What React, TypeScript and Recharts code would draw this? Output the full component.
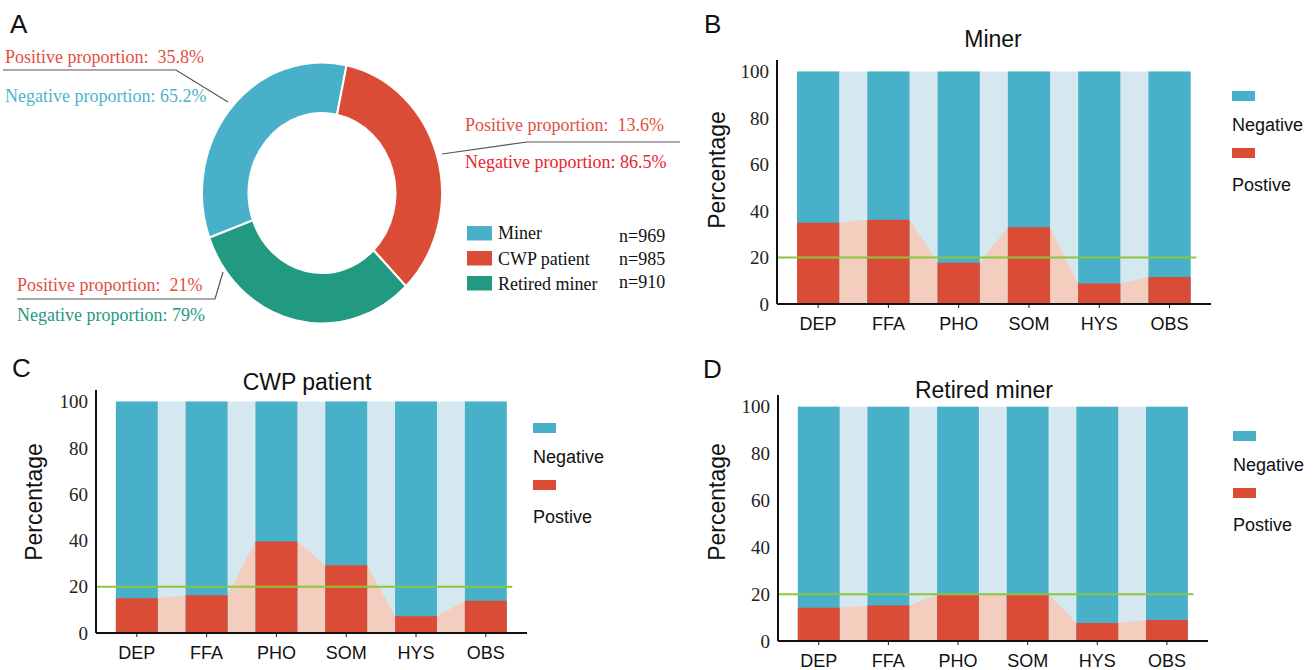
import React from 'react';
import { ComposedChart, Area, XAxis, YAxis, ReferenceLine, PieChart, Pie, Cell } from 'recharts';

// screening results per factor (positive %)
const categories = ['DEP', 'FFA', 'PHO', 'SOM', 'HYS', 'OBS'];
const minerPositive = [35.0, 36.3, 17.8, 33.0, 8.8, 11.6];
const cwpPositive = [15.0, 16.3, 39.5, 29.3, 7.2, 13.9];
const retiredPositive = [14.2, 15.2, 19.7, 20.0, 7.7, 9.0];
const yTicks = [0, 20, 40, 60, 80, 100];
const cutoff = 20;

// donut panel
const groups = ['Miner', 'CWP patient', 'Retired miner'];
const groupCounts = [969, 985, 910];

const BLUE = '#48b1c9';
const RED = '#db4c37';
const GREEN = '#229a82';
const LIGHT_BLUE = '#d5e7ef';
const PINK = '#f3cdbd';
const LINE_GREEN = '#8cc63f';
const groupColors = [BLUE, RED, GREEN];

const SERIF = "'Times New Roman', 'Liberation Serif', serif";
const SANS = "Arial, 'Liberation Sans', sans-serif";

const HALF = 0.3; // half bar width, in category units
const X_DOMAIN: [number, number] = [-0.585, 5.59];

// each bar gets a left and right edge row; a gap row between bars breaks the bar areas
const buildRows = (positive: number[]) => {
  const rows: any[] = [];
  positive.forEach((p, i) => {
    if (i > 0) rows.push({ x: i - 0.5, total: null, pos: null, linkTotal: null, linkPos: null });
    rows.push({ x: i - HALF, total: 100, pos: p, linkTotal: 100, linkPos: p });
    rows.push({ x: i + HALF, total: 100, pos: p, linkTotal: 100, linkPos: p });
  });
  return rows;
};

const panels = [
  { letter: 'B', title: 'Miner', values: minerPositive, left: 717, top: 50, width: 499, height: 294,
    letterX: 704, letterY: 33, titleX: 993, titleY: 47, labelX: 717, labelY: 170, legendX: 1232, legendY: 91 },
  { letter: 'C', title: 'CWP patient', values: cwpPositive, left: 36, top: 380, width: 496, height: 293,
    letterX: 12, letterY: 377, titleX: 307, titleY: 390, labelX: 34, labelY: 502, legendX: 533, legendY: 423 },
  { letter: 'D', title: 'Retired miner', values: retiredPositive, left: 718, top: 385, width: 495, height: 296,
    letterX: 703, letterY: 378, titleX: 984, titleY: 398, labelX: 717, labelY: 502, legendX: 1233, legendY: 431 },
];

const areaProps = { type: 'linear' as const, stroke: 'none', fillOpacity: 1, dot: false, activeDot: false, isAnimationActive: false };

const YTick = ({ x, y, payload }: any) => (
  <text x={x} y={y} dy="0.35em" textAnchor="end" fontFamily={SERIF} fontSize={19} fill="#222">
    {payload.value}
  </text>
);

const XTick = ({ x, y, payload }: any) => (
  <text x={x} y={y} dy="0.8em" textAnchor="middle" fontFamily={SANS} fontSize={18} fill="#111">
    {categories[payload.value]}
  </text>
);

const BarPanel = ({ p }: { p: typeof panels[number] }) => (
  <div style={{ position: 'absolute', left: p.left, top: p.top }}>
    <ComposedChart width={p.width} height={p.height} data={buildRows(p.values)} margin={{ top: 10, right: 5, bottom: 0, left: 0 }}>
      <XAxis
        type="number"
        dataKey="x"
        domain={X_DOMAIN}
        ticks={[0, 1, 2, 3, 4, 5]}
        interval={0}
        height={40}
        tickSize={4}
        tickMargin={8}
        axisLine={{ stroke: '#111', strokeWidth: 2 }}
        tickLine={{ stroke: '#111' }}
        tick={<XTick />}
      />
      <YAxis
        type="number"
        domain={[0, 105]}
        ticks={yTicks}
        width={60}
        tickLine={false}
        axisLine={{ stroke: '#111', strokeWidth: 2 }}
        tick={<YTick />}
      />
      <Area {...areaProps} dataKey="linkTotal" fill={LIGHT_BLUE} connectNulls />
      <Area {...areaProps} dataKey="linkPos" fill={PINK} connectNulls />
      <Area {...areaProps} dataKey="total" fill={BLUE} />
      <Area {...areaProps} dataKey="pos" fill={RED} />
      <ReferenceLine segment={[{ x: X_DOMAIN[0], y: cutoff }, { x: 5.38, y: cutoff }]} stroke={LINE_GREEN} strokeWidth={2} />
    </ComposedChart>
  </div>
);

const pieData = groups.map((g, i) => ({ name: g, n: groupCounts[i] }));

export default function App() {
  return (
    <div style={{ position: 'absolute', left: 0, top: 0, width: 1313, height: 670, background: '#fff', overflow: 'hidden' }}>
      {/* donut, figure is slightly stretched vertically */}
      <div style={{ position: 'absolute', left: 192, top: 62.5, width: 260, height: 260, transform: 'scaleY(1.088)', transformOrigin: 'center center' }}>
        <PieChart width={260} height={260} margin={{ top: 0, right: 0, bottom: 0, left: 0 }}>
          <Pie
            data={pieData}
            dataKey="n"
            cx="50%"
            cy="50%"
            innerRadius={73.5}
            outerRadius={120}
            startAngle={-160}
            endAngle={-520}
            stroke="#fff"
            strokeWidth={2}
            isAnimationActive={false}
          >
            {pieData.map((d, i) => <Cell key={d.name} fill={groupColors[i]} />)}
          </Pie>
        </PieChart>
      </div>

      {panels.map(p => <BarPanel key={p.letter} p={p} />)}

      <svg width={1313} height={670} style={{ position: 'absolute', left: 0, top: 0, pointerEvents: 'none' }}>
        {/* panel A text */}
        <text x={10} y={33} fontFamily={SANS} fontSize={26} fill="#111">A</text>
        <g fontFamily={SERIF} fontSize={18}>
          <text x={5} y={63} fill="#e25040" xmlSpace="preserve">Positive proportion:  35.8%</text>
          <text x={5} y={102} fill="#4db3cc">Negative proportion: 65.2%</text>
          <text x={465} y={131} fill="#e25040" xmlSpace="preserve">Positive proportion:  13.6%</text>
          <text x={465} y={168} fill="#e8262e">Negative proportion: 86.5%</text>
          <text x={17} y={291} fill="#e25040" xmlSpace="preserve">Positive proportion:  21%</text>
          <text x={17} y={321} fill="#1f9a80">Negative proportion: 79%</text>
        </g>
        <g fill="none" stroke="#555" strokeWidth={1.2}>
          <polyline points="3,70 176,70 228,102" />
          <polyline points="17,299 215,299 223,272" />
          <polyline points="442,154 527,142 680,142" />
        </g>
        {groups.map((g, i) => (
          <g key={g} fontFamily={SERIF} fontSize={18} fill="#111">
            <rect x={467} y={226 + i * 25} width={25} height={14.5} fill={groupColors[i]} />
            <text x={498} y={239 + i * 25.5}>{g}</text>
            <text x={619} y={242 + i * 23}>n={groupCounts[i]}</text>
          </g>
        ))}

        {/* panels B-D text and legends */}
        {panels.map(p => (
          <g key={p.letter}>
            <text x={p.letterX} y={p.letterY} fontFamily={SANS} fontSize={26} fill="#111">{p.letter}</text>
            <text x={p.titleX} y={p.titleY} textAnchor="middle" fontFamily={SANS} fontSize={23} fill="#111">{p.title}</text>
            <text
              transform={`translate(${p.labelX},${p.labelY}) rotate(-90)`}
              textAnchor="middle"
              dominantBaseline="central"
              fontFamily={SANS}
              fontSize={23}
              fill="#111"
            >
              Percentage
            </text>
            <rect x={p.legendX} y={p.legendY} width={23} height={10} fill={BLUE} />
            <text x={p.legendX} y={p.legendY + 40} fontFamily={SANS} fontSize={18} fill="#111">Negative</text>
            <rect x={p.legendX} y={p.legendY + 57} width={23} height={10} fill={RED} />
            <text x={p.legendX} y={p.legendY + 100} fontFamily={SANS} fontSize={18} fill="#111">Postive</text>
          </g>
        ))}
      </svg>
    </div>
  );
}
